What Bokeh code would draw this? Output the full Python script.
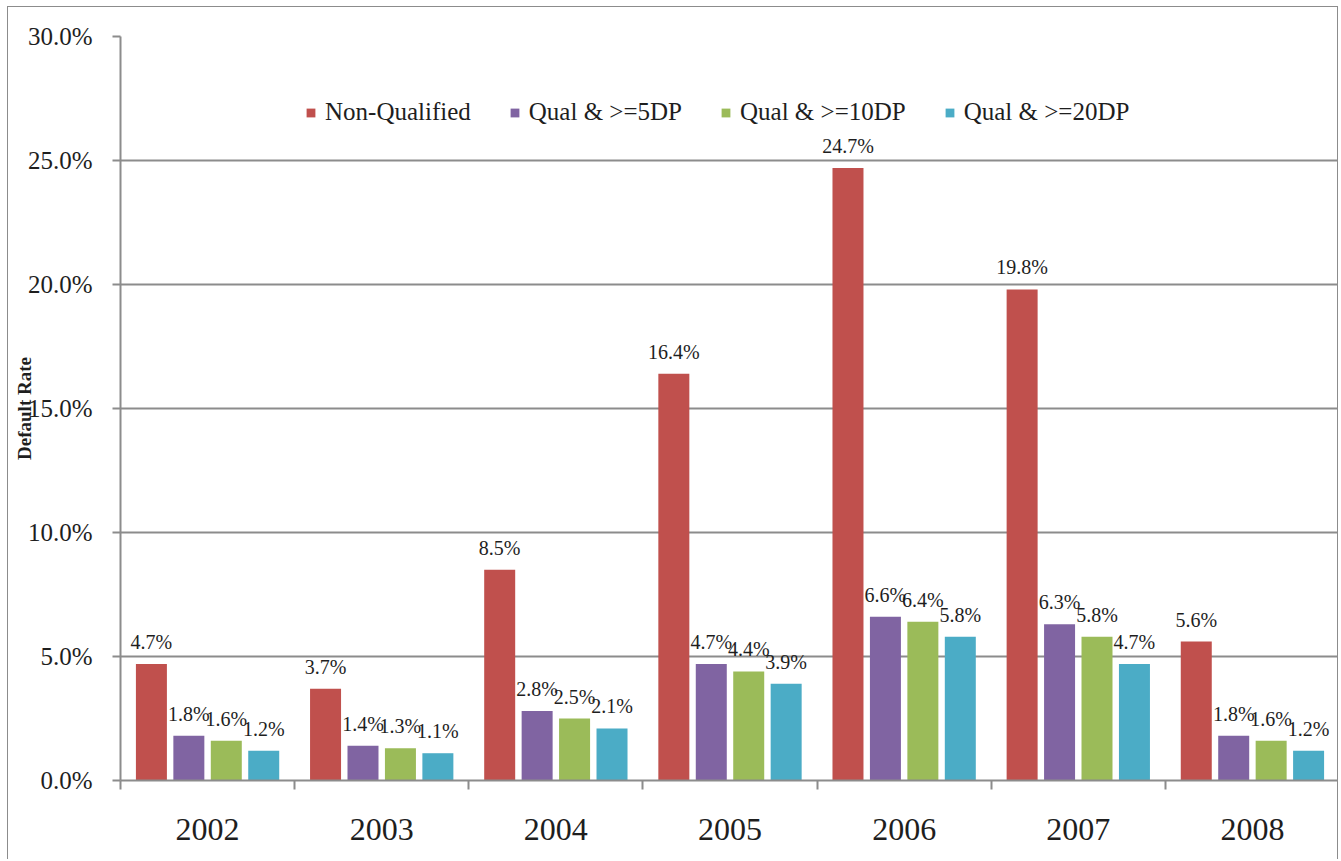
import math
from bokeh.plotting import figure
from bokeh.models import (Range1d, FixedTicker, Legend, LegendItem,
                          ColumnDataSource, PrintfTickFormatter, CustomJSTickFormatter)
from bokeh.core.properties import value
from bokeh.embed import file_html
from bokeh.resources import INLINE

# ---- data ----
years = ["2002", "2003", "2004", "2005", "2006", "2007", "2008"]
non_qualified = [4.7, 3.7, 8.5, 16.4, 24.7, 19.8, 5.6]
qual_5dp = [1.8, 1.4, 2.8, 4.7, 6.6, 6.3, 1.8]
qual_10dp = [1.6, 1.3, 2.5, 4.4, 6.4, 5.8, 1.6]
qual_20dp = [1.2, 1.1, 2.1, 3.9, 5.8, 4.7, 1.2]
series_names = ["Non-Qualified", "Qual & >=5DP", "Qual & >=10DP", "Qual & >=20DP"]
y_ticks = [0, 5, 10, 15, 20, 25, 30]
y_title = "Default Rate"

series = [non_qualified, qual_5dp, qual_10dp, qual_20dp]
colors = ["#C0504D", "#8064A2", "#9BBB59", "#4BACC6"]
offsets = [-0.3225, -0.1075, 0.1075, 0.3225]
bar_w = 0.178
FONT = "Liberation Serif"
GRAY = "#8c8c8c"
TXT = "#1e1e1e"

n = len(years)
p = figure(width=1331, height=853, x_range=Range1d(0, n), y_range=Range1d(0, 30),
           output_backend="svg", toolbar_location=None,
           min_border_left=112, min_border_right=0, min_border_top=29, min_border_bottom=80)
p.styles = {"margin-left": "7px", "margin-top": "6px",
            "border-left": f"1px solid {GRAY}", "border-top": f"1px solid {GRAY}",
            "border-right": f"1px solid {GRAY}"}
p.outline_line_color = None
p.background_fill_color = "white"
p.border_fill_color = "white"

# x axis
p.xaxis.ticker = FixedTicker(ticks=[i + 0.5 for i in range(n)], minor_ticks=list(range(n + 1)))
p.xaxis.formatter = CustomJSTickFormatter(args=dict(years=years),
                                          code="return years[Math.floor(tick)];")
p.xaxis.major_tick_out = 0
p.xaxis.major_tick_in = 0
p.xaxis.minor_tick_out = 9
p.xaxis.minor_tick_in = 0
p.xaxis.minor_tick_line_color = GRAY
p.xaxis.minor_tick_line_width = 2
p.xaxis.axis_line_color = GRAY
p.xaxis.axis_line_width = 2
p.xaxis.major_label_text_font = FONT
p.xaxis.major_label_text_font_size = "32px"
p.xaxis.major_label_text_color = TXT
p.xaxis.major_label_standoff = 29

# y axis
p.yaxis.ticker = FixedTicker(ticks=y_ticks, minor_ticks=[])
p.yaxis.formatter = PrintfTickFormatter(format="%.1f%%")
p.yaxis.major_tick_out = 8
p.yaxis.major_tick_in = 0
p.yaxis.major_tick_line_color = GRAY
p.yaxis.major_tick_line_width = 2
p.yaxis.axis_line_color = GRAY
p.yaxis.axis_line_width = 2
p.yaxis.major_label_text_font = FONT
p.yaxis.major_label_text_font_size = "25px"
p.yaxis.major_label_text_color = TXT
p.yaxis.major_label_standoff = 20
p.yaxis.axis_label = y_title
p.yaxis.axis_label_text_font = FONT
p.yaxis.axis_label_text_font_style = "bold"
p.yaxis.axis_label_text_font_size = "19px"
p.yaxis.axis_label_text_color = TXT
p.yaxis.axis_label_standoff = -10

p.xgrid.visible = False
p.ygrid.grid_line_color = GRAY
p.ygrid.grid_line_width = 2

items = []
for vals, name, col, off in zip(series, series_names, colors, offsets):
    src = ColumnDataSource(dict(x=[i + 0.5 + off for i in range(n)], top=vals,
                                lab=[f"{v:.1f}%" for v in vals]))
    r = p.vbar(x="x", top="top", width=bar_w, source=src, fill_color=col, line_color=None)
    p.text(x="x", y="top", text="lab", source=src, text_font=value(FONT),
           text_font_size="20px", text_align="center", text_baseline="alphabetic",
           y_offset=-22, text_color=TXT)
    items.append(LegendItem(label=name, renderers=[r]))

legend = Legend(items=items, orientation="horizontal", location=(185, 654),
                glyph_width=11, glyph_height=11, label_standoff=9, spacing=38,
                padding=0, margin=0, border_line_color=None, background_fill_alpha=0,
                label_text_font=FONT, label_text_font_size="25px", label_text_color=TXT)
p.add_layout(legend)

open("out.html", "w").write(file_html(p, INLINE))
